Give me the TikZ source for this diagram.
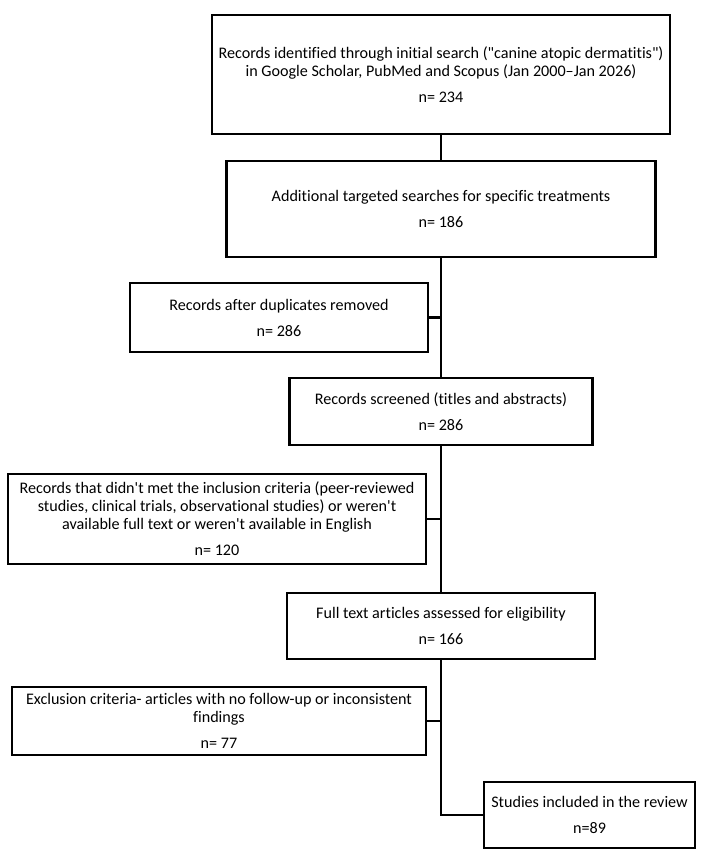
\documentclass[tikz,border=0pt]{standalone}
\usepackage{fontspec}
\setmainfont{Carlito}[Ligatures=NoCommon]
\usepackage{tikz}
\tikzset{box/.style={draw, line width=2pt, align=center, inner sep=0pt}}

\begin{document}
\begin{tikzpicture}[x=0.75pt, y=-0.75pt, line width=2pt,
    font=\fontsize{12.1}{13.5}\selectfont]
  \useasboundingbox (0,0) rectangle (705,861);
  \node [box, minimum width=343.5pt, minimum height=89.25pt] (1) at (441,74.5)
    {Records identified through initial search (\textquotedbl canine atopic dermatitis\textquotedbl)\\
     in Google Scholar, PubMed and Scopus (Jan 2000\textendash Jan 2026)\\[6pt] n= 234};
  \node [box, minimum width=321.75pt, minimum height=72pt] (2) at (441,209)
    {Additional targeted searches for specific treatments\\[6pt] n= 186};
  \node [box, minimum width=223.5pt, minimum height=51.75pt] (3) at (279,317.5)
    {Records after duplicates removed\\[6pt] n= 286};
  \node [box, minimum width=227.25pt, minimum height=50.25pt] (4) at (441,411.5)
    {Records screened (titles and abstracts)\\[6pt] n= 286};
  \node [box, minimum width=313.5pt, minimum height=67.5pt] (5) at (217,519)
    {Records that didn\textquotesingle t met the inclusion criteria (peer-reviewed\\
     studies, clinical trials, observational studies) or weren\textquotesingle t\\
     available full text or weren\textquotesingle t available in English\\[6pt] n= 120};
  \node [box, minimum width=231pt, minimum height=49.5pt] (6) at (441,626)
    {Full text articles assessed for eligibility\\[6pt] n= 166};
  \node [box, minimum width=310.5pt, minimum height=51pt] (7) at (219,721)
    {Exclusion criteria- articles with no follow-up or inconsistent\\
     findings\\[6pt] n= 77};
  \node [box, minimum width=158.25pt, minimum height=49.5pt] (8) at (589.5,815)
    {Studies included in the review\\[6pt] n=89};
  \draw (1) -- (2);
  \draw (2) -- (4);
  \draw (3.east) -- (3.east -| 2.south);
  \draw (4) -- (6);
  \draw (5.east) -- (5.east -| 4.south);
  \draw (6.south) |- (8.west);
  \draw (7.east) -- (7.east -| 6.south);
\end{tikzpicture}
\end{document}
